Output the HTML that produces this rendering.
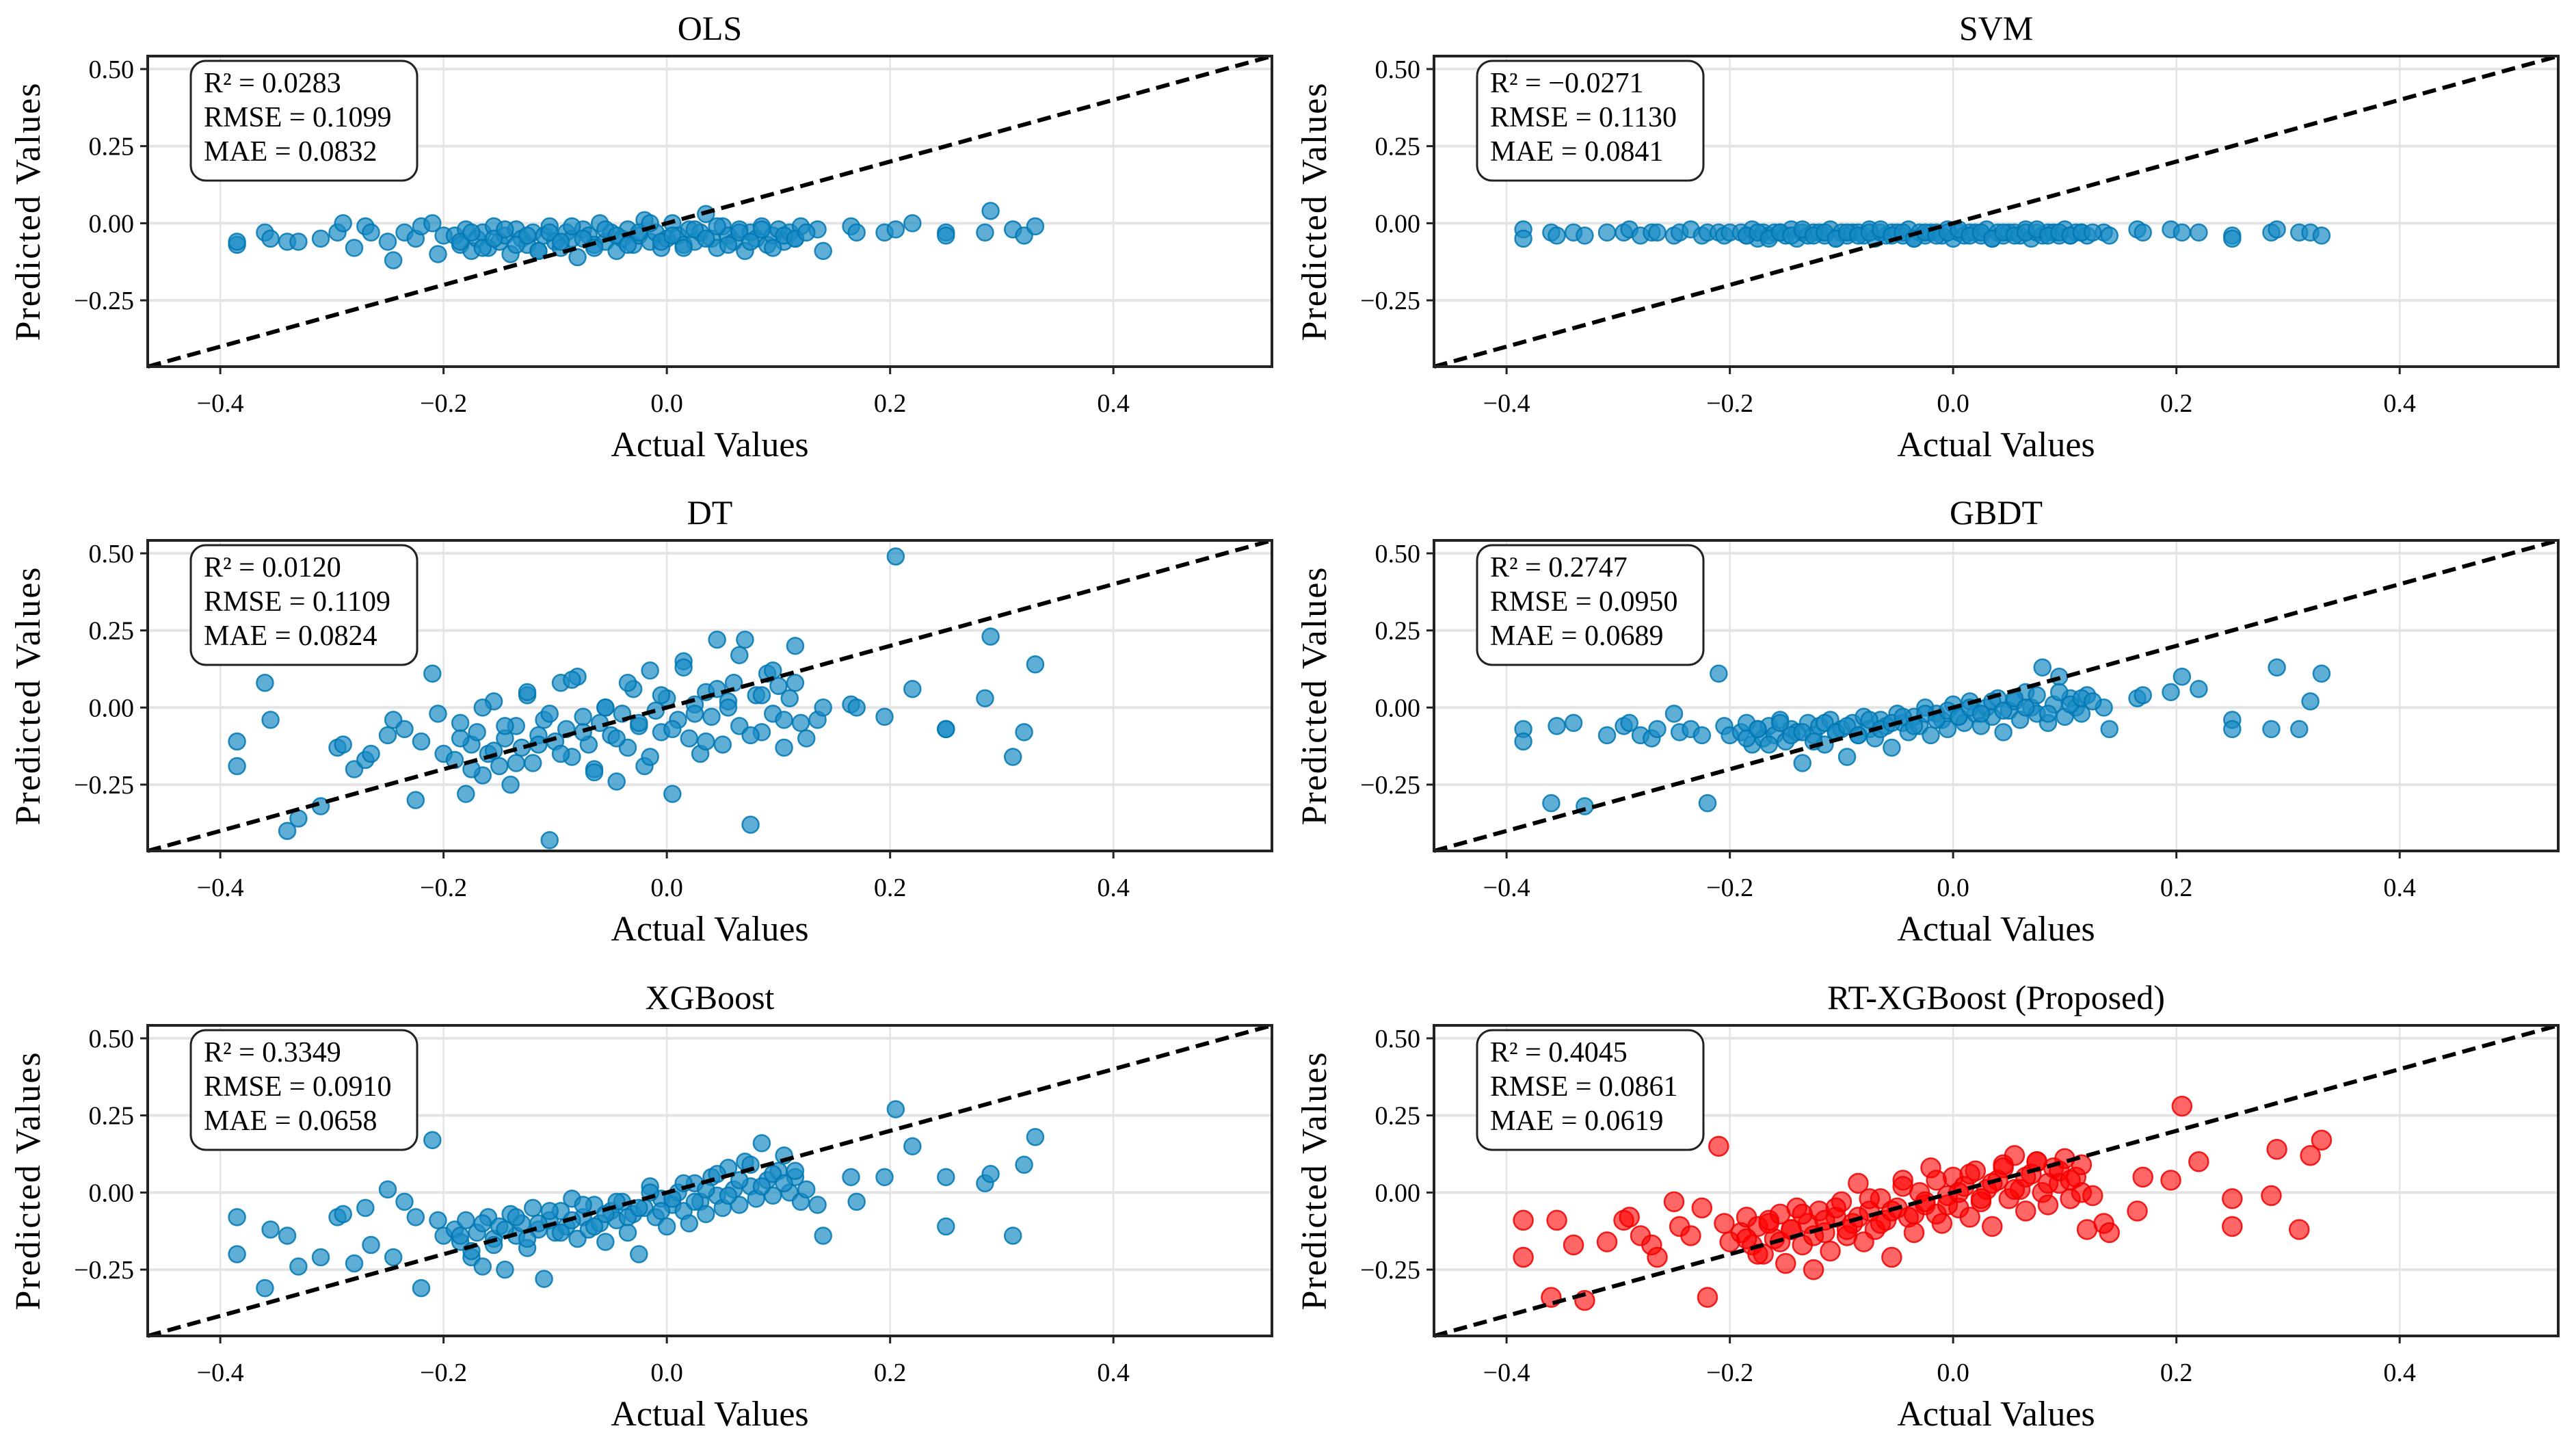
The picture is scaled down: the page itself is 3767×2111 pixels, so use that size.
<!DOCTYPE html>
<html><head><meta charset="utf-8"><style>
html,body{margin:0;padding:0;background:#fff;}
svg{display:block;font-family:"Liberation Serif","Times New Roman",serif;}
</style></head><body>
<svg id="fig" width="3767" height="2111" viewBox="0 0 3767 2111" xmlns="http://www.w3.org/2000/svg"></svg>
<script>
// ---- data ----
const actualValues = [-0.385,-0.385,-0.36,-0.355,-0.34,-0.33,-0.31,-0.295,-0.29,-0.28,-0.27,-0.265,-0.25,-0.245,-0.235,-0.225,-0.22,-0.21,-0.205,-0.2,
-0.19,-0.185,-0.18,-0.175,-0.17,-0.165,-0.16,-0.155,-0.15,-0.145,-0.14,-0.135,-0.13,-0.125,-0.12,-0.115,-0.11,-0.105,-0.1,-0.095,-0.09,-0.085,-0.08,-0.075,-0.07,-0.065,-0.06,-0.055,-0.05,-0.045,-0.04,-0.035,-0.03,-0.025,-0.02,-0.015,-0.01,-0.005,0,0.005,0.01,0.015,0.02,0.025,0.03,0.035,0.04,0.045,0.05,0.055,0.06,0.065,0.07,0.075,0.08,0.085,0.09,0.095,0.1,0.105,0.11,0.115,0.12,
0.135,0.14,0.165,0.17,0.195,0.205,0.22,0.25,0.25,0.285,0.29,0.31,0.32,0.33,
-0.185,-0.175,-0.165,-0.155,-0.145,-0.135,-0.125,-0.115,-0.105,-0.095,-0.085,-0.075,-0.065,-0.055,-0.045,-0.035,-0.025,-0.015,-0.005,0.005,0.015,0.025,0.035,0.045,0.055,0.065,0.075,0.085,0.095,0.105,0.115,0.125];
const predOLS = [-0.07,-0.06,-0.03,-0.05,-0.06,-0.06,-0.05,-0.03,0.0,-0.08,-0.01,-0.03,-0.06,-0.12,-0.03,-0.05,-0.01,0.0,-0.1,-0.04,
-0.04,-0.07,-0.02,-0.09,-0.05,-0.03,-0.08,-0.01,-0.06,-0.04,-0.1,-0.02,-0.05,-0.07,-0.03,-0.09,-0.04,-0.01,-0.06,-0.08,-0.03,-0.05,-0.11,-0.02,-0.04,-0.07,0.0,-0.06,-0.03,-0.09,-0.05,-0.02,-0.07,-0.04,0.01,-0.06,-0.03,-0.08,-0.05,0.0,-0.04,-0.07,-0.02,-0.06,-0.03,0.03,-0.05,-0.08,-0.01,-0.04,-0.06,-0.02,-0.09,-0.03,-0.05,-0.01,-0.07,-0.04,-0.02,-0.06,-0.03,-0.05,-0.01,
-0.02,-0.09,-0.01,-0.03,-0.03,-0.02,0.0,-0.03,-0.04,-0.03,0.04,-0.02,-0.04,-0.01,
-0.06,-0.03,-0.08,-0.05,-0.02,-0.07,-0.04,-0.09,-0.03,-0.06,-0.01,-0.05,-0.08,-0.02,-0.04,-0.07,-0.03,0.0,-0.06,-0.04,-0.08,-0.02,-0.05,-0.01,-0.07,-0.03,-0.06,-0.02,-0.08,-0.04,-0.05,-0.03];
const predSVM = [-0.02,-0.05,-0.03,-0.04,-0.03,-0.04,-0.03,-0.03,-0.02,-0.04,-0.03,-0.03,-0.04,-0.03,-0.02,-0.04,-0.03,-0.03,-0.04,-0.03,
-0.03,-0.04,-0.02,-0.05,-0.03,-0.04,-0.03,-0.03,-0.04,-0.02,-0.05,-0.03,-0.04,-0.03,-0.03,-0.04,-0.02,-0.05,-0.03,-0.04,-0.03,-0.03,-0.04,-0.02,-0.05,-0.03,-0.04,-0.03,-0.03,-0.04,-0.02,-0.05,-0.03,-0.04,-0.03,-0.03,-0.04,-0.02,-0.05,-0.03,-0.04,-0.03,-0.03,-0.04,-0.02,-0.05,-0.03,-0.04,-0.03,-0.03,-0.04,-0.02,-0.05,-0.03,-0.04,-0.03,-0.03,-0.04,-0.02,-0.04,-0.03,-0.03,-0.04,
-0.03,-0.04,-0.02,-0.03,-0.02,-0.03,-0.03,-0.04,-0.05,-0.03,-0.02,-0.03,-0.03,-0.04,
-0.04,-0.03,-0.05,-0.03,-0.04,-0.02,-0.04,-0.03,-0.05,-0.03,-0.04,-0.03,-0.02,-0.04,-0.03,-0.05,-0.03,-0.04,-0.03,-0.02,-0.04,-0.03,-0.05,-0.03,-0.04,-0.03,-0.02,-0.04,-0.03,-0.04,-0.03,-0.03];
const predDT = [-0.11,-0.19,0.08,-0.04,-0.4,-0.36,-0.32,-0.13,-0.12,-0.2,-0.17,-0.15,-0.09,-0.04,-0.07,-0.3,-0.11,0.11,-0.02,-0.15,
-0.17,-0.05,-0.28,-0.12,-0.08,-0.22,-0.15,0.02,-0.19,-0.1,-0.25,-0.06,-0.13,0.04,-0.18,-0.09,-0.04,-0.43,-0.11,0.08,-0.07,-0.16,0.1,-0.03,-0.12,-0.2,-0.05,0.0,-0.09,-0.24,-0.02,-0.13,0.06,-0.06,-0.19,0.12,-0.01,-0.08,0.03,-0.28,-0.04,0.15,-0.1,0.01,-0.15,0.05,-0.03,0.22,-0.12,0.02,0.08,-0.06,0.22,-0.38,0.04,-0.08,0.11,-0.02,0.07,-0.13,0.03,0.2,-0.05,
-0.04,0.0,0.01,0.0,-0.03,0.49,0.06,-0.07,-0.07,0.03,0.23,-0.16,-0.08,0.14,
-0.1,-0.2,0.0,-0.14,-0.06,-0.18,0.05,-0.12,-0.02,-0.15,0.09,-0.08,-0.21,0.0,-0.1,0.08,-0.05,-0.16,0.04,-0.07,0.13,-0.02,-0.11,0.06,0.0,0.17,-0.09,0.04,0.12,-0.04,0.08,-0.1];
const predGBDT = [-0.07,-0.11,-0.31,-0.06,-0.05,-0.32,-0.09,-0.06,-0.05,-0.09,-0.1,-0.07,-0.02,-0.08,-0.07,-0.09,-0.31,0.11,-0.06,-0.09,
-0.08,-0.05,-0.12,-0.07,-0.1,-0.06,-0.09,-0.04,-0.11,-0.07,-0.08,-0.18,-0.05,-0.09,-0.06,-0.12,-0.04,-0.08,-0.07,-0.16,-0.05,-0.09,-0.03,-0.07,-0.1,-0.04,-0.06,-0.13,-0.02,-0.05,-0.08,-0.03,-0.06,0.0,-0.09,-0.02,-0.04,-0.07,0.01,-0.03,-0.05,0.02,-0.02,-0.06,0.0,-0.03,0.03,-0.08,-0.01,0.02,-0.04,0.05,0.0,-0.02,0.13,-0.05,0.01,0.1,-0.03,0.03,0.0,-0.02,0.04,
0.0,-0.07,0.03,0.04,0.05,0.1,0.06,-0.04,-0.07,-0.07,0.13,-0.07,0.02,0.11,
-0.1,-0.07,-0.12,-0.05,-0.09,-0.08,-0.11,-0.05,-0.08,-0.06,-0.09,-0.04,-0.07,-0.05,-0.03,-0.06,-0.02,-0.04,-0.01,-0.03,0.0,-0.02,0.02,-0.01,0.03,0.0,0.04,-0.02,0.05,0.01,0.03,0.02];
const predXGB = [-0.08,-0.2,-0.31,-0.12,-0.14,-0.24,-0.21,-0.08,-0.07,-0.23,-0.05,-0.17,0.01,-0.21,-0.03,-0.08,-0.31,0.17,-0.09,-0.14,
-0.12,-0.16,-0.09,-0.21,-0.13,-0.24,-0.08,-0.15,-0.11,-0.25,-0.07,-0.14,-0.1,-0.18,-0.05,-0.12,-0.28,-0.09,-0.13,-0.06,-0.11,-0.02,-0.15,-0.08,-0.12,-0.04,-0.1,-0.16,-0.06,-0.09,-0.03,-0.13,-0.07,-0.2,-0.05,0.02,-0.08,-0.02,-0.11,-0.04,0.0,-0.06,-0.1,0.03,-0.03,-0.07,0.05,-0.01,-0.05,0.08,0.01,-0.04,0.1,0.02,-0.02,0.16,0.04,-0.01,0.07,0.12,0.0,0.05,-0.03,
-0.04,-0.14,0.05,-0.03,0.05,0.27,0.15,-0.11,0.05,0.03,0.06,-0.14,0.09,0.18,
-0.14,-0.19,-0.1,-0.17,-0.12,-0.08,-0.15,-0.1,-0.06,-0.13,-0.09,-0.04,-0.11,-0.07,-0.03,-0.08,-0.05,0.0,-0.06,-0.02,0.03,-0.03,0.01,0.06,-0.01,0.04,0.09,0.02,0.06,0.03,0.07,0.01];
const predRTXGB = [-0.09,-0.21,-0.34,-0.09,-0.17,-0.35,-0.16,-0.09,-0.08,-0.14,-0.17,-0.21,-0.03,-0.11,-0.14,-0.05,-0.34,0.15,-0.1,-0.16,
-0.13,-0.08,-0.17,-0.11,-0.2,-0.09,-0.15,-0.07,-0.23,-0.12,-0.05,-0.17,-0.1,-0.25,-0.06,-0.13,-0.19,-0.08,-0.03,-0.14,-0.1,0.03,-0.16,-0.06,-0.12,-0.02,-0.09,-0.21,-0.05,0.04,-0.08,-0.13,0.0,-0.04,0.08,-0.07,-0.1,-0.01,0.05,-0.05,0.02,-0.08,0.07,-0.03,0.01,-0.11,0.04,0.09,-0.02,0.12,0.01,-0.06,0.06,0.1,0.0,-0.04,0.08,0.03,0.11,-0.02,0.05,0.0,-0.12,
-0.1,-0.13,-0.06,0.05,0.04,0.28,0.1,-0.02,-0.11,-0.01,0.14,-0.12,0.12,0.17,
-0.15,-0.2,-0.1,-0.16,-0.12,-0.07,-0.14,-0.09,-0.05,-0.12,-0.08,-0.02,-0.1,-0.06,0.02,-0.07,-0.03,0.04,-0.04,0.0,0.06,-0.02,0.03,0.08,0.01,0.05,0.1,0.03,0.07,0.04,0.09,-0.01];
const modelTitles = ["OLS","SVM","DT","GBDT","XGBoost","RT-XGBoost (Proposed)"];
const modelR2 = ["0.0283","\u22120.0271","0.0120","0.2747","0.3349","0.4045"];
const modelRMSE = ["0.1099","0.1130","0.1109","0.0950","0.0910","0.0861"];
const modelMAE = ["0.0832","0.0841","0.0824","0.0689","0.0658","0.0619"];
const xTicks = [-0.4,-0.2,0.0,0.2,0.4];
const xTickLabels = ["\u22120.4","\u22120.2","0.0","0.2","0.4"];
const yTicks = [-0.25,0.0,0.25,0.5];
const yTickLabels = ["\u22120.25","0.00","0.25","0.50"];

const preds = [predOLS,predSVM,predDT,predGBDT,predXGB,predRTXGB];
const NS="http://www.w3.org/2000/svg";
const svg=document.getElementById('fig');
const LIM=[-0.465,0.542];
const colLeft=[216,2097], W=1644, rowTop=[82,790,1499], H=454;
function mk(tag,attrs,parent){const e=document.createElementNS(NS,tag);for(const k in attrs)e.setAttribute(k,attrs[k]);(parent||svg).appendChild(e);return e;}

for(let p=0;p<6;p++){
  const x0=colLeft[p%2], y0=rowTop[Math.floor(p/2)];
  const sx=v=>x0+(v-LIM[0])/(LIM[1]-LIM[0])*W;
  const sy=v=>y0+H-(v-LIM[0])/(LIM[1]-LIM[0])*H;
  const g=mk('g',{});
  
  
  xTicks.forEach((t,i)=>{
    const l=mk('line',{x1:sx(t),x2:sx(t),y1:y0,y2:y0+H,stroke:'#e4e4e4','stroke-width':2.5},g);
    
    
  });
  yTicks.forEach((t,i)=>{
    const l=mk('line',{x1:x0,x2:x0+W,y1:sy(t),y2:sy(t),stroke:'#e4e4e4','stroke-width':4},g);
    
    
  });
  const red=(p===5);
  const ys=preds[p];
  const n=Math.min(actualValues.length,ys.length);
  for(let i=0;i<n;i++){
    const c=mk('circle',{cx:sx(actualValues[i]),cy:sy(ys[i]),r:red?14:12,
      fill:red?'#ff0000':'#1a8cc4','fill-opacity':red?0.6:0.7,stroke:red?'#ee0000':'#0077b3','stroke-width':2.5,'stroke-opacity':0.85},g);
    
    
  }
  const d=mk('line',{x1:sx(LIM[0]),y1:sy(LIM[0]),x2:sx(LIM[1]),y2:sy(LIM[1]),stroke:'#000','stroke-width':6,'stroke-dasharray':'20 10'},g);
  
  
  const fr=mk('rect',{x:x0,y:y0,width:W,height:H,fill:'none',stroke:'#222','stroke-width':4},g);
  
  
  xTicks.forEach((t,i)=>{
    const tk=mk('line',{x1:sx(t),x2:sx(t),y1:y0+H,y2:y0+H+11,stroke:'#222','stroke-width':3},g);
    
    
    const tl=mk('text',{x:sx(t),y:y0+H+66,'text-anchor':'middle','font-size':38},g);
    tl.textContent=xTickLabels[i];
    
    
  });
  yTicks.forEach((t,i)=>{
    const tk=mk('line',{x1:x0-11,x2:x0,y1:sy(t),y2:sy(t),stroke:'#222','stroke-width':3},g);
    
    
    const tl=mk('text',{x:x0-20,y:sy(t)+13,'text-anchor':'end','font-size':38},g);
    tl.textContent=yTickLabels[i];
    
    
  });
  const ti=mk('text',{x:x0+W/2,y:y0-24,'text-anchor':'middle','font-size':50},g);
  ti.textContent=modelTitles[p];
  
  
  const xl=mk('text',{x:x0+W/2,y:y0+H+131,'text-anchor':'middle','font-size':52},g);
  xl.textContent='Actual Values';
  
  
  const yx=x0-158, yy=y0+H/2;
  const yl=mk('text',{x:yx,y:yy,'text-anchor':'middle','font-size':52,transform:`rotate(-90 ${yx} ${yy})`,'letter-spacing':2},g);
  yl.textContent='Predicted Values';
  
  
  const bx=mk('rect',{x:x0+63,y:y0+7,width:331,height:175,rx:22,ry:22,fill:'#fff',stroke:'#222','stroke-width':3},g);
  
  
  const lines=['R\u00b2 = '+modelR2[p],'RMSE = '+modelRMSE[p],'MAE = '+modelMAE[p]];
  lines.forEach((s,i)=>{
    const t=mk('text',{x:x0+82,y:y0+53+i*50,'font-size':42},g);
    t.textContent=s;
    
    
  });
}
</script>
</body></html>
